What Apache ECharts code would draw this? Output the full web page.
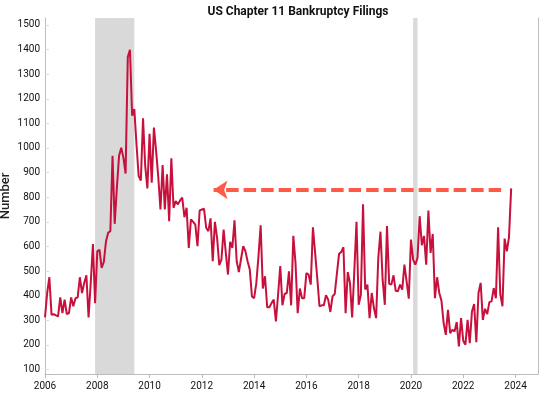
<!DOCTYPE html>
<html>
<head>
<meta charset="utf-8">
<title>US Chapter 11 Bankruptcy Filings</title>
<script src="https://cdn.jsdelivr.net/npm/echarts@6/dist/echarts.min.js"></script>
<style>
  html, body { margin: 0; padding: 0; background: #fff; }
  #main { width: 550px; height: 400px; }
</style>
</head>
<body>
<div id="main"></div>
<script>
// monthly filings, Jan 2006 - Nov 2023
var startYear = 2006;
var filings = [
  312, 411, 475, 323, 325, 320, 316, 393, 329, 384, 325, 329,
  393, 357, 390, 393, 475, 411, 452, 483, 312, 452, 610, 370,
  580, 587, 513, 537, 621, 656, 662, 968, 692, 839, 968, 1001,
  961, 896, 1369, 1399, 1131, 1158, 1015, 886, 868, 1121, 927, 836,
  1058, 859, 1083, 988, 882, 750, 931, 750, 893, 703, 958, 757,
  784, 771, 787, 798, 719, 757, 594, 710, 700, 689, 601, 746,
  750, 753, 676, 662, 714, 540, 700, 635, 524, 547, 669, 574,
  486, 619, 594, 706, 540, 496, 550, 601, 581, 540, 507, 397,
  390, 450, 560, 686, 429, 479, 353, 353, 370, 384, 296, 404,
  520, 361, 407, 411, 499, 361, 643, 533, 329, 429, 390, 390,
  492, 486, 445, 678, 574, 470, 357, 361, 361, 402, 384, 334,
  397, 407, 490, 570, 578, 597, 329, 496, 452, 312, 500, 700,
  363, 404, 771, 425, 445, 309, 411, 350, 309, 553, 660, 465,
  363, 683, 448, 445, 483, 420, 418, 445, 425, 526, 458, 388,
  628, 547, 526, 553, 723, 605, 643, 526, 746, 574, 651, 390,
  475, 411, 380, 289, 241, 343, 248, 262, 255, 293, 194, 309,
  217, 201, 302, 207, 336, 366, 211, 411, 452, 302, 347, 325,
  374, 377, 431, 390, 678, 407, 357, 632, 580, 637, 836
];
// shaded recessions [start, end] as 'YYYY-MM'
var recessions = [['2007-12', '2009-06'], ['2020-02', '2020-04']];
// arrow: from / to (decimal year) at level
var arrowFrom = 2023.45;
var arrowTo = 2012.45;
var arrowLevel = 830;
var yearTicks = [2006, 2008, 2010, 2012, 2014, 2016, 2018, 2020, 2022, 2024];
var valueTicks = [100, 200, 300, 400, 500, 600, 700, 800, 900, 1000, 1100, 1200, 1300, 1400, 1500];

function ym(s) {
  var p = s.split('-');
  return +p[0] + (+p[1] - 1) / 12;
}

var points = filings.map(function (v, i) { return [startYear + i / 12, v]; });
var areas = recessions.map(function (r) { return [{ xAxis: ym(r[0]) }, { xAxis: ym(r[1]) }]; });

var font = 'Roboto, "Noto Sans", sans-serif';
var chart = echarts.init(document.getElementById('main'));
chart.setOption({
  animation: false,
  title: {
    text: 'US Chapter 11 Bankruptcy Filings',
    left: 293, top: 1, textAlign: 'center',
    textStyle: { fontFamily: font, fontSize: 12, fontWeight: 'bold', color: '#111' }
  },
  grid: { left: 45, right: 12, top: 18, bottom: 26, outerBoundsMode: 'none', containLabel: false },
  xAxis: {
    type: 'value', min: 2006, max: 2024.86,
    axisLine: { lineStyle: { color: '#bdbdbd' } },
    axisTick: { customValues: yearTicks, length: 4, lineStyle: { color: '#bdbdbd' } },
    axisLabel: { customValues: yearTicks, margin: 7, fontFamily: font, fontSize: 10, color: '#111',
      formatter: function (v) { return String(Math.round(v)); } },
    splitLine: { show: false }
  },
  yAxis: [{
    type: 'value', min: 82, max: 1528,
    name: 'Number', nameLocation: 'middle', nameGap: 33, nameMoveOverlap: false,
    nameTextStyle: { fontFamily: font, fontSize: 13, fontWeight: 500, color: '#222' },
    axisLine: { show: true, lineStyle: { color: '#bdbdbd' } },
    axisTick: { show: true, inside: true, length: 4, customValues: valueTicks, lineStyle: { color: '#dcdcdc' } },
    axisLabel: { customValues: valueTicks, margin: 5, fontFamily: font, fontSize: 10, color: '#111',
      formatter: function (v) { return String(v); } },
    splitLine: { show: false }
  }, {
    type: 'value', position: 'right', min: 82, max: 1528,
    axisLine: { show: true, lineStyle: { color: '#bdbdbd' } },
    axisTick: { show: false }, axisLabel: { show: false }, splitLine: { show: false }
  }],
  series: [{
    type: 'line', data: [], z: 1, silent: true,
    markArea: { silent: true, itemStyle: { color: '#d9d9d9' }, data: areas }
  }, {
    name: 'Filings', type: 'line', data: points, z: 2,
    showSymbol: false, symbol: 'none',
    lineStyle: { color: '#c8103c', width: 2 }
  }, {
    type: 'line', data: [], z: 3, silent: true,
    markLine: {
      silent: true, symbol: ['none', 'arrow'], symbolSize: [14, 14],
      label: { show: false },
      lineStyle: { color: '#ff5a48', width: 4, type: [12.5, 5], cap: 'butt' },
      data: [[{ coord: [arrowFrom, arrowLevel] }, { coord: [arrowTo, arrowLevel] }]]
    }
  }]
});
</script>
</body>
</html>
